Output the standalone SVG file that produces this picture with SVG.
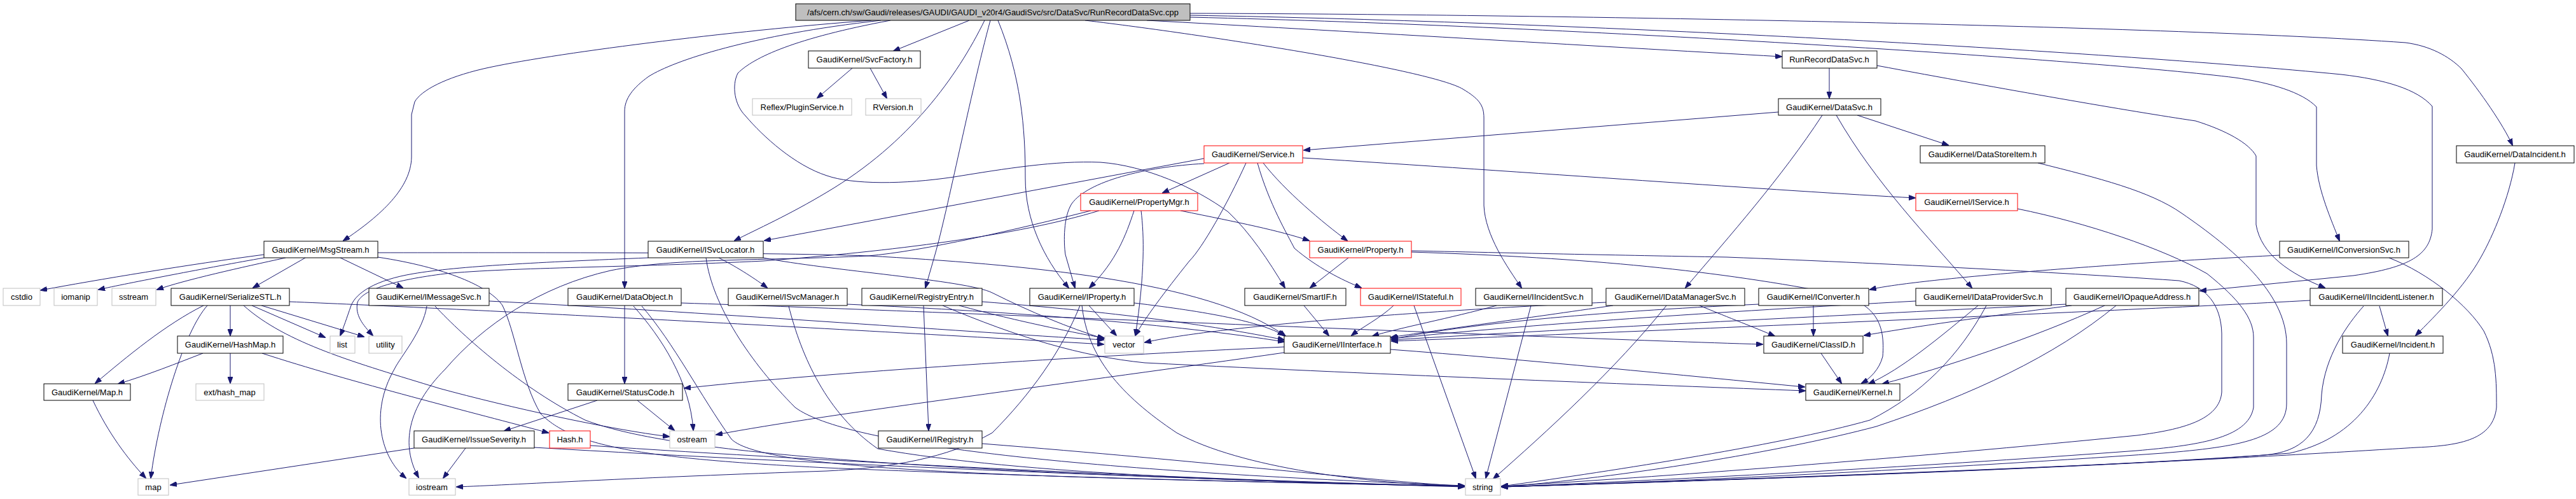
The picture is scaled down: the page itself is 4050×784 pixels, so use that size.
<svg xmlns="http://www.w3.org/2000/svg" width="4050" height="784" viewBox="0 0 4050 784">
<style>
rect{fill:#fff;stroke:#000;stroke-width:1}
.r rect{stroke:#f00}
.g rect{stroke:#bfbfbf}
.root rect{fill:#bfbfbf;stroke:#000}
text{font-family:"Liberation Sans",Arial,sans-serif;font-size:13px;fill:#000;text-anchor:middle}
#edges path{fill:none;stroke:#191970;stroke-width:1;marker-end:url(#a)}
</style>
<defs>
<marker id="a" markerWidth="11" markerHeight="8" refX="10" refY="4" orient="auto" markerUnits="userSpaceOnUse"><path d="M0,0 L11,4 L0,8 z" fill="#191970" stroke="#191970"/></marker>
</defs>
<rect x="0" y="0" width="4050" height="784" style="fill:#fff;stroke:none"/>
<g id="edges">
<path d="M1370,32 C1150,48 860,85 760,108 C700,122 662,142 652,160 L647,180 L647,247 C646,295 600,338 540,378"/>
<path d="M1385,32 C1180,55 1060,95 1020,120 C995,138 982,155 982,175 L982,452"/>
<path d="M1548,32 C1505,120 1430,225 1300,302 C1240,338 1190,360 1155,378"/>
<path d="M1524,32 L1405,80"/>
<path d="M1557,32 C1525,150 1490,330 1470,400 L1455,452"/>
<path d="M1569,32 C1605,120 1612,200 1612,280 C1612,345 1640,405 1680,452"/>
<path d="M1400,32 C1250,60 1185,90 1160,115 C1150,135 1155,165 1172,182 C1200,215 1250,260 1300,276 C1340,290 1420,290 1500,278 C1580,265 1660,252 1730,255 C1800,260 1880,295 1931,333 C1965,365 1995,410 2020,452"/>
<path d="M1706,32 C1900,55 2250,110 2300,140 C2325,155 2333,165 2333,185 L2333,323 C2335,370 2370,420 2392,452"/>
<path d="M1803,32 C2100,48 2500,72 2801,89"/>
<path d="M1871,21 C2400,22 3400,40 3782,67 C3820,72 3850,88 3870,108 C3900,145 3935,195 3950,228"/>
<path d="M1871,24 C2500,35 3300,80 3681,117 C3750,125 3800,140 3824,167 L3824,360 C3820,400 3790,420 3700,433 L3459,457"/>
<path d="M1871,27 C2500,42 3300,95 3514,122 C3570,130 3620,145 3642,168 L3642,260 C3645,300 3665,345 3678,378"/>
<path d="M1340,107 L1285,154"/>
<path d="M1368,107 L1394,154"/>
<path d="M2876,107 L2876,154"/>
<path d="M2951,103 C3150,140 3350,175 3452,190 C3500,205 3536,225 3547,245 L3547,353 C3555,400 3600,430 3655,452"/>
<path d="M2796,176 L2050,236"/>
<path d="M2920,181 L3063,228"/>
<path d="M2865,181 C2800,280 2720,370 2650,452"/>
<path d="M2887,181 C2950,290 3030,370 3100,452"/>
<path d="M3204,256 C3300,280 3380,300 3430,335 C3510,390 3595,460 3595,540 L3595,634 C3595,690 3520,702 3400,712 C3000,740 2600,758 2361,765"/>
<path d="M3954,256 C3945,310 3920,370 3900,405 C3875,450 3830,495 3798,527"/>
<path d="M1893,249 L1202,378"/>
<path d="M1933,256 L1828,303"/>
<path d="M1893,257 C1800,262 1710,285 1685,320 C1672,340 1672,380 1675,400 L1690,452"/>
<path d="M1959,256 C1930,320 1890,390 1870,410 C1830,460 1800,500 1785,527"/>
<path d="M1986,256 C2020,300 2080,350 2118,378"/>
<path d="M1977,256 C1995,320 2025,370 2035,390 C2070,420 2110,440 2140,452"/>
<path d="M2048,248 C2400,270 2800,300 3011,311"/>
<path d="M1783,331 C1770,370 1755,410 1713,452"/>
<path d="M1794,331 C1799,370 1800,430 1785,527"/>
<path d="M1856,331 C1950,350 2010,362 2058,378"/>
<path d="M1715,331 C1600,360 1450,395 1365,402 C1200,410 1060,405 960,425 C850,450 760,510 700,580 C640,640 630,700 658,750"/>
<path d="M1728,331 C1600,370 1400,395 1200,410 C1000,420 800,420 700,430 C620,440 570,455 562,475 C558,495 570,510 586,527"/>
<path d="M1019,405 C850,412 720,418 650,430 C590,440 560,460 552,480 C545,500 540,515 535,527"/>
<path d="M415,400 C300,415 150,440 64,456"/>
<path d="M415,405 C330,420 200,445 155,455"/>
<path d="M449,405 C380,420 290,440 247,455"/>
<path d="M480,405 L398,452"/>
<path d="M535,405 L633,452"/>
<path d="M594,397 C800,397 1200,396 1365,402 C1600,415 1900,440 2021,528"/>
<path d="M594,404 C700,420 770,450 790,480 C810,520 820,600 850,650 C900,700 1000,720 1300,735 C1700,752 2100,760 2302,764"/>
<path d="M362,480 L362,527"/>
<path d="M320,480 C260,510 200,560 150,602"/>
<path d="M326,480 C290,520 250,650 237,751"/>
<path d="M396,480 L511,530"/>
<path d="M411,480 L572,529"/>
<path d="M383,480 C450,540 560,570 690,610 C800,640 960,675 1052,686"/>
<path d="M455,474 C700,484 1200,510 1735,541"/>
<path d="M319,555 C280,570 230,590 186,603"/>
<path d="M362,555 L362,602"/>
<path d="M412,555 C550,600 750,650 862,680"/>
<path d="M146,629 C170,680 200,720 229,751"/>
<path d="M671,481 C665,520 630,560 620,580 C580,650 600,720 638,751"/>
<path d="M684,481 C730,530 820,610 920,660 C1050,710 1400,740 2302,765"/>
<path d="M769,473 C1100,490 1500,520 1735,534"/>
<path d="M982,480 L982,602"/>
<path d="M996,481 C1040,530 1085,600 1090,676"/>
<path d="M1009,481 C1060,540 1100,620 1150,690 C1200,740 1600,750 2302,764"/>
<path d="M1071,476 C1500,490 2400,530 2771,541"/>
<path d="M1130,405 C1160,420 1190,440 1206,452"/>
<path d="M1110,405 C1120,480 1180,570 1250,640 C1330,700 1700,740 2302,763"/>
<path d="M1200,405 C1300,425 1520,440 1560,460 C1620,490 1680,515 1735,532"/>
<path d="M1240,481 C1260,560 1300,650 1380,705 C1600,745 2000,758 2302,764"/>
<path d="M1332,478 C1600,490 1850,510 2019,537"/>
<path d="M1452,480 L1460,676"/>
<path d="M1508,480 C1600,505 1700,525 1736,531"/>
<path d="M1482,480 C1600,530 1700,560 1800,570 C2200,590 2600,605 2838,614"/>
<path d="M1544,474 C1750,490 1900,510 2019,534"/>
<path d="M1544,697 C1900,725 2150,755 2302,764"/>
<path d="M1712,480 L1755,527"/>
<path d="M1698,480 C1670,550 1620,620 1560,680 C1490,720 1400,735 1300,740 C1000,750 800,762 718,765"/>
<path d="M1701,480 C1710,560 1760,620 1850,680 C1950,735 2150,760 2302,764"/>
<path d="M1783,476 C1900,490 1980,505 2019,527"/>
<path d="M2050,480 L2089,527"/>
<path d="M2120,405 L2060,452"/>
<path d="M2219,394 C2400,398 2600,402 2715,404 C3000,415 3300,432 3426,441 C3470,450 3492,480 3493,524 L3493,616 C3490,660 3430,675 3360,684 C3000,720 2600,750 2361,764"/>
<path d="M2219,396 C2500,405 2700,425 2894,463 C2950,480 2964,510 2960,560 C2955,580 2940,595 2927,602"/>
<path d="M2191,480 C2170,500 2140,515 2125,527"/>
<path d="M2223,480 L2320,751"/>
<path d="M2353,480 C2280,500 2200,515 2158,528"/>
<path d="M2407,480 L2336,751"/>
<path d="M2536,480 C2400,500 2250,520 2187,530"/>
<path d="M2620,480 C2540,580 2430,680 2348,752"/>
<path d="M2525,475 C2200,490 1900,515 1800,538"/>
<path d="M2672,480 C2720,500 2760,515 2790,528"/>
<path d="M2851,480 L2851,527"/>
<path d="M2765,478 C2500,490 2300,510 2188,533"/>
<path d="M3584,401 C3300,415 3000,440 2940,455"/>
<path d="M3756,405 C3820,430 3880,480 3905,520 C3925,560 3925,600 3925,640 C3920,690 3870,700 3800,703 C3600,715 3300,735 2361,765"/>
<path d="M3012,473 C2700,490 2400,510 2188,532"/>
<path d="M3110,480 C3050,530 2990,580 2938,603"/>
<path d="M3123,480 C3080,560 3020,620 2940,660 C2800,700 2500,745 2361,764"/>
<path d="M3257,480 C3100,500 3000,515 2931,527"/>
<path d="M3309,480 C3200,530 3050,580 2960,603"/>
<path d="M3327,480 C3230,560 3100,620 2950,670 C2800,710 2550,750 2361,765"/>
<path d="M3248,478 C2900,495 2500,515 2188,534"/>
<path d="M3741,481 L3754,527"/>
<path d="M3716,481 C3690,510 3655,560 3650,620 C3648,680 3620,710 3560,715 C3300,735 2700,755 2361,765"/>
<path d="M3632,472 C3300,490 2600,520 2188,536"/>
<path d="M3757,555 C3745,620 3700,690 3600,712 C3300,735 2700,755 2361,765"/>
<path d="M3172,328 C3280,350 3400,390 3470,430 C3520,470 3543,500 3543,530 L3543,640 C3535,690 3450,700 3360,708 C3000,735 2600,755 2361,765"/>
<path d="M2019,545 C1700,560 1300,585 1076,610"/>
<path d="M2019,554 C1700,600 1300,650 1126,683"/>
<path d="M2186,549 C2400,565 2650,590 2837,608"/>
<path d="M2863,555 L2895,602"/>
<path d="M939,629 L793,677"/>
<path d="M1002,629 L1060,676"/>
<path d="M651,704 L268,762"/>
<path d="M732,704 L697,751"/>
<path d="M840,703 C1300,730 1900,755 2302,764"/>
<path d="M928,700 C1300,725 1900,755 2302,764"/>
</g>
<g id="n_root" class="root"><rect x="1251" y="6" width="620" height="26"/><text x="1561" y="24">/afs/cern.ch/sw/Gaudi/releases/GAUDI/GAUDI_v20r4/GaudiSvc/src/DataSvc/RunRecordDataSvc.cpp</text></g>
<g id="n_SvcFactory"><rect x="1271" y="80" width="176" height="27"/><text x="1359" y="98">GaudiKernel/SvcFactory.h</text></g>
<g id="n_RunRecordDataSvcH"><rect x="2802" y="80" width="149" height="27"/><text x="2876" y="98">RunRecordDataSvc.h</text></g>
<g id="n_PluginService" class="g"><rect x="1183" y="155" width="156" height="26"/><text x="1261" y="173">Reflex/PluginService.h</text></g>
<g id="n_RVersion" class="g"><rect x="1361" y="155" width="87" height="26"/><text x="1404" y="173">RVersion.h</text></g>
<g id="n_DataSvc"><rect x="2796" y="155" width="161" height="26"/><text x="2876" y="173">GaudiKernel/DataSvc.h</text></g>
<g id="n_Service" class="r"><rect x="1893" y="229" width="155" height="27"/><text x="1970" y="247">GaudiKernel/Service.h</text></g>
<g id="n_DataStoreItem"><rect x="3019" y="229" width="196" height="27"/><text x="3117" y="247">GaudiKernel/DataStoreItem.h</text></g>
<g id="n_DataIncident"><rect x="3862" y="229" width="185" height="27"/><text x="3954" y="247">GaudiKernel/DataIncident.h</text></g>
<g id="n_PropertyMgr" class="r"><rect x="1699" y="304" width="184" height="27"/><text x="1791" y="322">GaudiKernel/PropertyMgr.h</text></g>
<g id="n_IService" class="r"><rect x="3012" y="304" width="160" height="27"/><text x="3092" y="322">GaudiKernel/IService.h</text></g>
<g id="n_MsgStream"><rect x="415" y="379" width="179" height="26"/><text x="504" y="397">GaudiKernel/MsgStream.h</text></g>
<g id="n_ISvcLocator"><rect x="1019" y="379" width="181" height="26"/><text x="1109" y="397">GaudiKernel/ISvcLocator.h</text></g>
<g id="n_Property" class="r"><rect x="2059" y="379" width="160" height="26"/><text x="2139" y="397">GaudiKernel/Property.h</text></g>
<g id="n_IConversionSvc"><rect x="3584" y="379" width="203" height="26"/><text x="3685" y="397">GaudiKernel/IConversionSvc.h</text></g>
<g id="n_cstdio" class="g"><rect x="5" y="453" width="58" height="27"/><text x="34" y="471">cstdio</text></g>
<g id="n_iomanip" class="g"><rect x="85" y="453" width="68" height="27"/><text x="119" y="471">iomanip</text></g>
<g id="n_sstream" class="g"><rect x="176" y="453" width="69" height="27"/><text x="210" y="471">sstream</text></g>
<g id="n_SerializeSTL"><rect x="269" y="453" width="186" height="27"/><text x="362" y="471">GaudiKernel/SerializeSTL.h</text></g>
<g id="n_IMessageSvc"><rect x="580" y="453" width="189" height="27"/><text x="674" y="471">GaudiKernel/IMessageSvc.h</text></g>
<g id="n_DataObject"><rect x="893" y="453" width="178" height="27"/><text x="982" y="471">GaudiKernel/DataObject.h</text></g>
<g id="n_ISvcManager"><rect x="1145" y="453" width="187" height="27"/><text x="1238" y="471">GaudiKernel/ISvcManager.h</text></g>
<g id="n_RegistryEntry"><rect x="1355" y="453" width="189" height="27"/><text x="1449" y="471">GaudiKernel/RegistryEntry.h</text></g>
<g id="n_IProperty"><rect x="1619" y="453" width="164" height="27"/><text x="1701" y="471">GaudiKernel/IProperty.h</text></g>
<g id="n_SmartIF"><rect x="1957" y="453" width="159" height="27"/><text x="2036" y="471">GaudiKernel/SmartIF.h</text></g>
<g id="n_IStateful" class="r"><rect x="2139" y="453" width="158" height="27"/><text x="2218" y="471">GaudiKernel/IStateful.h</text></g>
<g id="n_IIncidentSvc"><rect x="2320" y="453" width="183" height="27"/><text x="2411" y="471">GaudiKernel/IIncidentSvc.h</text></g>
<g id="n_IDataManagerSvc"><rect x="2525" y="453" width="218" height="27"/><text x="2634" y="471">GaudiKernel/IDataManagerSvc.h</text></g>
<g id="n_IConverter"><rect x="2765" y="453" width="173" height="27"/><text x="2851" y="471">GaudiKernel/IConverter.h</text></g>
<g id="n_IDataProviderSvc"><rect x="3012" y="453" width="213" height="27"/><text x="3118" y="471">GaudiKernel/IDataProviderSvc.h</text></g>
<g id="n_IOpaqueAddress"><rect x="3248" y="453" width="209" height="27"/><text x="3352" y="471">GaudiKernel/IOpaqueAddress.h</text></g>
<g id="n_IIncidentListener"><rect x="3632" y="453" width="208" height="27"/><text x="3736" y="471">GaudiKernel/IIncidentListener.h</text></g>
<g id="n_HashMap"><rect x="279" y="528" width="166" height="27"/><text x="362" y="546">GaudiKernel/HashMap.h</text></g>
<g id="n_list" class="g"><rect x="519" y="528" width="39" height="27"/><text x="538" y="546">list</text></g>
<g id="n_utility" class="g"><rect x="580" y="528" width="52" height="27"/><text x="606" y="546">utility</text></g>
<g id="n_vector" class="g"><rect x="1737" y="528" width="61" height="27"/><text x="1767" y="546">vector</text></g>
<g id="n_IInterface"><rect x="2019" y="528" width="167" height="27"/><text x="2102" y="546">GaudiKernel/IInterface.h</text></g>
<g id="n_ClassID"><rect x="2773" y="528" width="156" height="27"/><text x="2851" y="546">GaudiKernel/ClassID.h</text></g>
<g id="n_Incident"><rect x="3683" y="528" width="158" height="27"/><text x="3762" y="546">GaudiKernel/Incident.h</text></g>
<g id="n_Map"><rect x="69" y="603" width="136" height="26"/><text x="137" y="621">GaudiKernel/Map.h</text></g>
<g id="n_ext_hash_map" class="g"><rect x="308" y="603" width="107" height="26"/><text x="361" y="621">ext/hash_map</text></g>
<g id="n_StatusCode"><rect x="893" y="603" width="180" height="26"/><text x="983" y="621">GaudiKernel/StatusCode.h</text></g>
<g id="n_Kernel"><rect x="2839" y="603" width="148" height="26"/><text x="2913" y="621">GaudiKernel/Kernel.h</text></g>
<g id="n_IssueSeverity"><rect x="651" y="677" width="189" height="27"/><text x="745" y="695">GaudiKernel/IssueSeverity.h</text></g>
<g id="n_Hash" class="r"><rect x="864" y="677" width="64" height="27"/><text x="896" y="695">Hash.h</text></g>
<g id="n_ostream" class="g"><rect x="1053" y="677" width="71" height="27"/><text x="1088" y="695">ostream</text></g>
<g id="n_IRegistry"><rect x="1381" y="677" width="163" height="27"/><text x="1462" y="695">GaudiKernel/IRegistry.h</text></g>
<g id="n_map" class="g"><rect x="217" y="752" width="48" height="26"/><text x="241" y="770">map</text></g>
<g id="n_iostream" class="g"><rect x="643" y="752" width="73" height="26"/><text x="679" y="770">iostream</text></g>
<g id="n_string" class="g"><rect x="2304" y="752" width="55" height="26"/><text x="2331" y="770">string</text></g>
</svg>
